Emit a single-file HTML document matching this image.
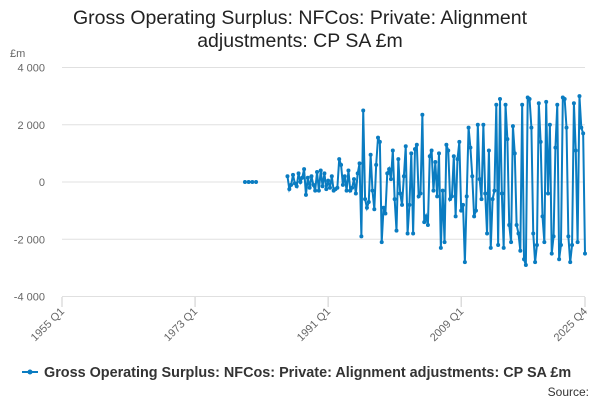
<!DOCTYPE html>
<html><head><meta charset="utf-8"><style>
body{margin:0;width:600px;height:400px;overflow:hidden;background:#fff;font-family:"Liberation Sans",sans-serif;}
</style></head><body>
<svg id="c" width="600" height="400">
<text x="300" y="24" text-anchor="middle" font-size="19.5" fill="#222">Gross Operating Surplus: NFCos: Private: Alignment</text>
<text x="300" y="47" text-anchor="middle" font-size="19.5" fill="#222">adjustments: CP SA £m</text>
<text x="10" y="57" font-size="11" fill="#666">£m</text>
<g id="grid"></g><g id="xt"></g><g id="ser"></g>
<g>
<line x1="22" y1="372" x2="38" y2="372" stroke="#0a7cc1" stroke-width="2"/>
<circle cx="30" cy="372" r="2.5" fill="#0a7cc1"/>
<text x="44" y="377" font-size="14.4" font-weight="bold" fill="#333">Gross Operating Surplus: NFCos: Private: Alignment adjustments: CP SA £m</text>
</g>
<text x="589" y="396" text-anchor="end" font-size="12" fill="#333">Source:</text>
</svg>
<script>
const yTicks=[4000,2000,0,-2000,-4000];
const yTickLabels=["4 000","2 000","0","-2 000","-4 000"];
const xTickQuarters=[0,72,144,216,283];
const xTickLabels=["1955 Q1","1973 Q1","1991 Q1","2009 Q1","2025 Q4"];
const earlyStart=99;
const earlyValues=[0,null,0,null,0,null,0];
const mainStart=122;
const mainValues=[200,-250,-100,250,-50,-150,300,0,150,450,-450,150,-200,200,-100,-300,350,-300,400,-150,300,-250,
50,-200,200,-300,-250,-200,800,600,-100,200,-300,400,-300,-200,100,-400,
300,650,-1900,2500,-600,-900,-700,950,-300,-950,600,1550,1400,-2100,-900,-1100,300,450,100,1100,
-600,-1700,800,-400,-800,200,1250,-1800,-800,1000,-1800,1150,1300,-500,-400,2350,-1400,-1200,-1500,900,
1100,-300,700,-500,1000,-2300,-300,-2100,1300,1100,-600,-500,900,-1200,800,1400,-1000,-800,-2800,-500,
1900,1200,200,-1200,-1000,2000,100,-600,2000,-400,-1800,1100,-2300,-600,-300,2700,-2200,2900,-400,-2300,
2700,1500,-1500,-2100,1950,1000,-1500,-1800,-2400,2700,-2700,-2900,2950,2900,1900,-1800,-2800,-2200,2750,1400,
-1200,-2100,2800,-400,2000,-2500,-1900,1200,2700,-2700,-2200,2950,2900,1900,-1900,-2800,-2200,2750,1100,-2100,3000,1900,1700,-2500];
const NS="http://www.w3.org/2000/svg";
const X=q=>62+q*(523/283);
const Y=v=>182-v*(114.5/4000);
function mk(t,a,p){const e=document.createElementNS(NS,t);for(const k in a)e.setAttribute(k,a[k]);p.appendChild(e);return e;}
const grid=document.getElementById('grid'),xt=document.getElementById('xt'),ser=document.getElementById('ser');
yTicks.forEach((v,i)=>{
 const l=mk('line',{x1:62,x2:585,y1:Y(v),y2:Y(v),stroke:'#e0e0e0','stroke-width':1},grid);
 
 
 const t=mk('text',{x:45,y:Y(v)+4,'text-anchor':'end','font-size':11,fill:'#666'},grid);
 t.textContent=yTickLabels[i];
 
 
});
xTickQuarters.forEach((q,i)=>{
 const x=X(q);
 const l=mk('line',{x1:x,x2:x,y1:297,y2:307,stroke:'#ccc'},xt);
 
 
 const t=mk('text',{x:x+3,y:312,'text-anchor':'end','font-size':11,fill:'#666',transform:`rotate(-45 ${x+3} 312)`},xt);
 t.textContent=xTickLabels[i];
 
 
});
function drawSeries(start,vals){
 let seg=[];
 const flush=()=>{if(seg.length>1){const p=mk('polyline',{points:seg.join(' '),fill:'none',stroke:'#0a7cc1','stroke-width':2},ser);
 
 }seg=[];};
 vals.forEach((v,i)=>{
  if(v===null){flush();return;}
  const x=X(start+i),y=Y(v);seg.push(x+','+y);
  const c=mk('circle',{cx:x,cy:y,r:2,fill:'#0a7cc1'},ser);
  
  
 });
 flush();
}
drawSeries(earlyStart,earlyValues);
drawSeries(mainStart,mainValues);
</script>
</body></html>
